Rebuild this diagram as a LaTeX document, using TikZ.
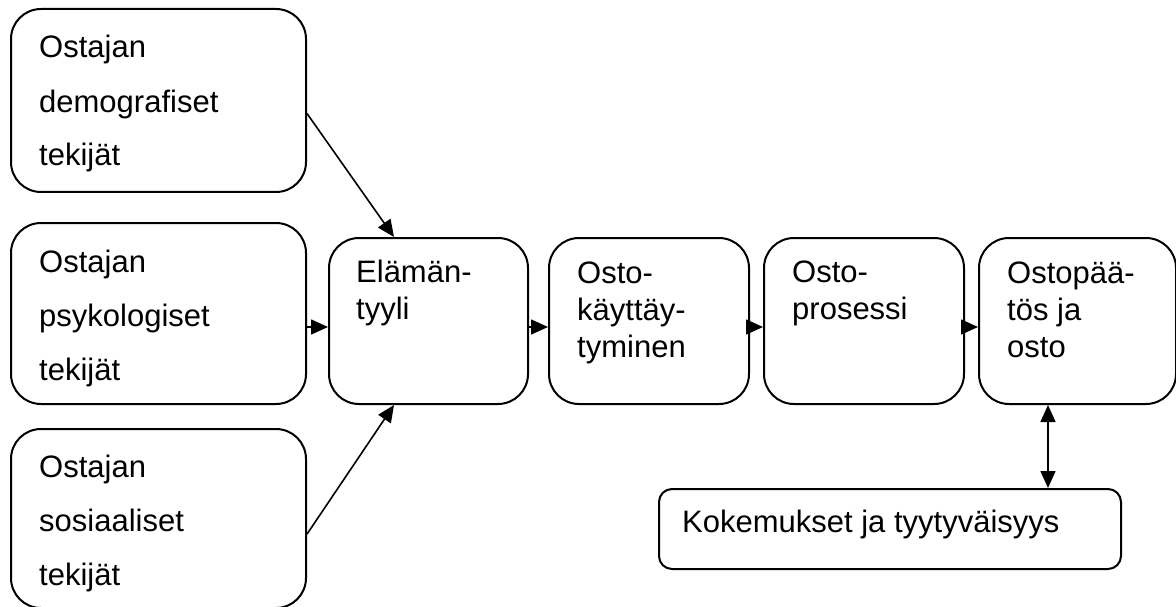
\documentclass[tikz,border=0pt]{standalone}
\usepackage{fontspec}
\setmainfont{Liberation Sans}
\usetikzlibrary{arrows.meta}
\begin{document}
\begin{tikzpicture}[x=1pt,y=-1pt,
  box/.style={draw, line width=2pt, rounded corners=30pt, anchor=north west, inner sep=0pt},
  smallbox/.style={box, rounded corners=13pt},
  lefttext/.style={anchor=base west, align=left, inner sep=0pt, font=\fontsize{31}{54}\selectfont},
  midtext/.style={anchor=base west, align=left, inner sep=0pt, font=\fontsize{31}{37}\selectfont},
  arr/.style={line width=1.6pt, -{Triangle[length=17pt,width=15pt]}},
  arrboth/.style={line width=1.6pt, {Triangle[length=17pt,width=15pt]}-{Triangle[length=17pt,width=15pt]}}]
\useasboundingbox (0,0) rectangle (1176,607);

% factor boxes on the left
\node[box, minimum width=295pt, minimum height=183pt] (l1) at (10,8) {};
\node[box, minimum width=295pt, minimum height=181pt] (l2) at (10,222) {};
\node[box, minimum width=295pt, minimum height=179pt] (l3) at (10,428) {};

% main chain
\node[box, minimum width=199pt, minimum height=166pt] (e) at (328,237) {};
\node[box, minimum width=200pt, minimum height=166pt] (k) at (548,237) {};
\node[box, minimum width=200pt, minimum height=166pt] (p) at (763,237) {};
\node[box, minimum width=197pt, minimum height=166pt] (d) at (978,237) {};

% feedback box
\node[smallbox, minimum width=462pt, minimum height=80pt] (x) at (658,488) {};

% texts (the base anchor sits on the last line)
\node[lefttext] (t1) at ([xshift=29pt,yshift=-158pt]l1.north west) {Ostajan\\demografiset\\tekijät};
\node[lefttext] (t2) at ([xshift=29pt,yshift=-158pt]l2.north west) {Ostajan\\psykologiset\\tekijät};
\node[lefttext] (t3) at ([xshift=29pt,yshift=-157pt]l3.north west) {Ostajan\\sosiaaliset\\tekijät};
\node[midtext] (te) at ([xshift=28pt,yshift=-82pt]e.north west) {Elämän-\\tyyli};
\node[midtext] (tk) at ([xshift=29pt,yshift=-120pt]k.north west) {Osto-\\käyttäy-\\tyminen};
\node[midtext] (tp) at ([xshift=29pt,yshift=-82pt]p.north west) {Osto-\\prosessi};
\node[midtext] (td) at ([xshift=29pt,yshift=-120pt]d.north west) {Ostopää-\\tös ja\\osto};
\node[midtext] (tx) at ([xshift=24pt,yshift=-44pt]x.north west) {Kokemukset ja tyytyväisyys};

% connectors
\coordinate (row) at (0,327);
\coordinate (col) at (1048,0);
\draw[arr] (l1.-5) -- ([xshift=-34.5pt]e.north);
\draw[arr] (l3.-6) -- ([xshift=-34.5pt]e.south);
\draw[arr] (l2.east |- row) -- (e.west |- row);
\draw[arr] (e.east |- row) -- (k.west |- row);
\draw[arr] (k.east |- row) -- (p.west |- row);
\draw[arr] (p.east |- row) -- (d.west |- row);
\draw[arrboth] (d.south -| col) -- (x.north -| col);
\end{tikzpicture}
\end{document}
